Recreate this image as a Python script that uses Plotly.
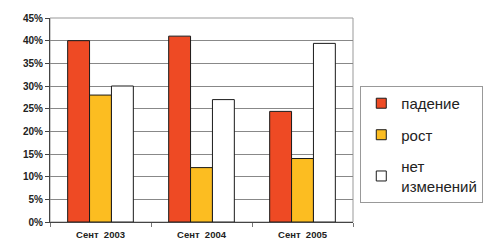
import plotly.graph_objects as go

categories = ["Сент  2003", "Сент  2004", "Сент  2005"]
fall = [40, 41, 24.4]
growth = [28, 12, 14]
nochange = [30, 27, 39.4]
names = ["падение", "рост", "нет<br>изменений"]
colors = ["#ee4a24", "#fcbd21", "#ffffff"]
ytick_vals = [0, 5, 10, 15, 20, 25, 30, 35, 40, 45]
ytick_text = [f"{v}%" for v in ytick_vals]

fig = go.Figure()
for i, (vals, name, col) in enumerate(zip([fall, growth, nochange], names, colors)):
    fig.add_trace(go.Bar(
        x=categories, y=vals, name=name, legendgroup=f"g{i}", showlegend=False,
        marker=dict(color=col, line=dict(color="#1a1a1a", width=1)),
    ))
    fig.add_trace(go.Scatter(
        x=[None], y=[None], mode="markers", name=name, legendgroup=f"g{i}",
        marker=dict(symbol="square", size=10, color=col, line=dict(color="#1a1a1a", width=1)),
    ))

fig.update_layout(
    width=500, height=252,
    margin=dict(l=50, r=147, t=13, b=29),
    paper_bgcolor="white", plot_bgcolor="white",
    barmode="group", bargap=0.35, bargroupgap=0,
    font=dict(family="Liberation Sans, Arial, sans-serif", color="#222"),
    showlegend=True,
    legend=dict(
        x=1.024, xanchor="left", y=0.38, yanchor="middle",
        bordercolor="#999", borderwidth=1, bgcolor="white",
        font=dict(size=15, color="#222"),
        tracegroupgap=9, itemwidth=30,
    ),
)
fig.update_yaxes(
    range=[0, 45], tickvals=ytick_vals, ticktext=ytick_text,
    showgrid=True, gridcolor="#888", gridwidth=1,
    showline=True, linecolor="#444", linewidth=1,
    ticks="outside", ticklen=4, tickcolor="#444",
    tickfont=dict(size=10, color="#222", family="Liberation Sans, Arial, sans-serif", weight="bold"),
    zeroline=False, fixedrange=True,
)
fig.update_xaxes(
    showline=True, linecolor="#444", linewidth=1,
    ticks="outside", tickson="boundaries", ticklen=4, tickcolor="#777",
    ticklabelstandoff=4,
    tickfont=dict(size=9.5, color="#222", family="Liberation Sans, Arial, sans-serif", weight="bold"),
    showgrid=False,
)
fig.add_shape(type="rect", xref="paper", yref="paper", x0=0, y0=0, x1=1, y1=1,
              line=dict(color="#999", width=1), layer="below")

fig.write_html("out.html")
